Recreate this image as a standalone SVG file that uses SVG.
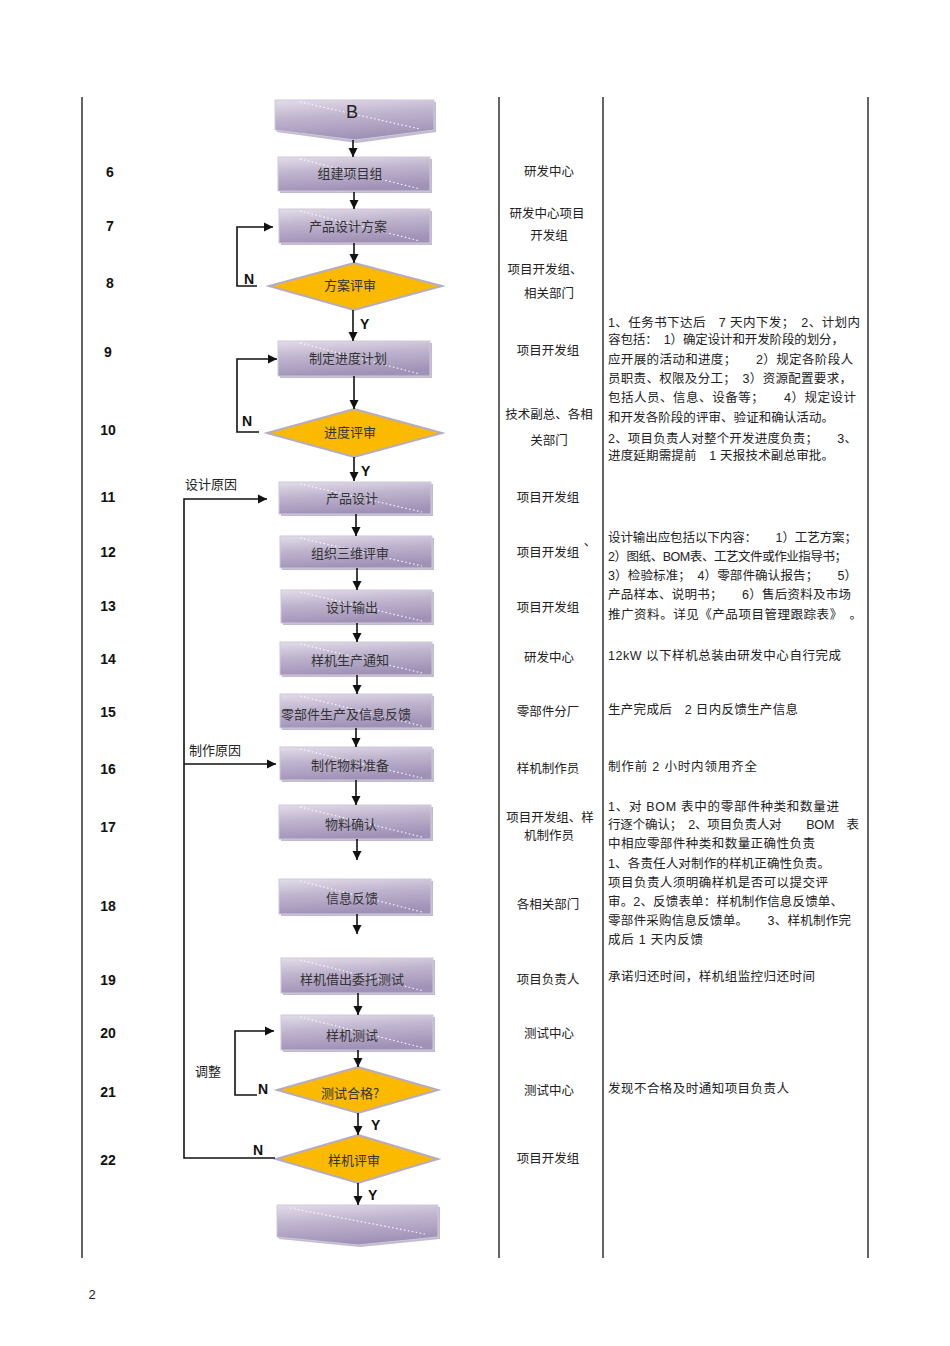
<svg xmlns="http://www.w3.org/2000/svg" width="950" height="1346" viewBox="0 0 950 1346">
<style>
.bg{fill:#ffffff}
.col{stroke:#111;stroke-width:1.3;fill:none}
.num{font-family:"Liberation Sans",Arial,sans-serif;font-weight:bold;font-size:14px;fill:#111;text-anchor:middle}
.yn{font-family:"Liberation Sans",Arial,sans-serif;font-weight:bold;font-size:14px;fill:#111}
.bx{fill:url(#pg);stroke:#cfc8da;stroke-width:1}
.sh{fill:#8f82a6;opacity:0.55}
.dot{stroke:#ffffff;stroke-width:1.2;stroke-dasharray:1.5 2.5;fill:none;opacity:0.9}
.dm{fill:#fbb900;stroke:#b4acc4;stroke-width:2}
.bt{font-family:"Noto Sans CJK SC",sans-serif;font-size:13px;fill:#333;text-anchor:middle;dominant-baseline:central}
.rt{font-family:"Noto Sans CJK SC",sans-serif;font-size:12.5px;fill:#222;text-anchor:middle;dominant-baseline:central}
.nt{font-family:"Liberation Sans","Noto Sans CJK SC",sans-serif;font-size:12.5px;fill:#222;dominant-baseline:central}
.lb{font-family:"Noto Sans CJK SC",sans-serif;font-size:13px;fill:#222;dominant-baseline:central}
.cn{stroke:#111;stroke-width:1.6;fill:none}
</style>
<defs>
<linearGradient id="pg" x1="0" y1="0" x2="0.25" y2="1">
<stop offset="0" stop-color="#e3dde9"/>
<stop offset="0.45" stop-color="#c0b5cf"/>
<stop offset="1" stop-color="#a092b7"/>
</linearGradient>
<marker id="ar" markerWidth="10" markerHeight="10" refX="9" refY="5" orient="auto" markerUnits="userSpaceOnUse">
<path d="M0,0.5 L9,5 L0,9.5 Z" fill="#111"/>
</marker>
</defs>
<rect class="bg" x="0" y="0" width="950" height="1346"/>

<g id="columns">
<line class="col" x1="82" y1="97" x2="82" y2="1258"/>
<line class="col" x1="499" y1="97" x2="499" y2="1258"/>
<line class="col" x1="603" y1="97" x2="603" y2="1258"/>
<line class="col" x1="868" y1="97" x2="868" y2="1258"/>
</g>

<g id="numbers">
<text class="num" x="110" y="177">6</text>
<text class="num" x="110" y="231">7</text>
<text class="num" x="110" y="288">8</text>
<text class="num" x="108" y="357">9</text>
<text class="num" x="108" y="435">10</text>
<text class="num" x="108" y="502">11</text>
<text class="num" x="108" y="557">12</text>
<text class="num" x="108" y="611">13</text>
<text class="num" x="108" y="664">14</text>
<text class="num" x="108" y="717">15</text>
<text class="num" x="108" y="774">16</text>
<text class="num" x="108" y="832">17</text>
<text class="num" x="108" y="911">18</text>
<text class="num" x="108" y="985">19</text>
<text class="num" x="108" y="1038">20</text>
<text class="num" x="108" y="1097">21</text>
<text class="num" x="108" y="1165">22</text>
</g>

<g id="nodeB">
<path class="sh" d="M277,102 L436,102 L436,132 L357,143 L277,132 Z"/>
<path class="bx" d="M275,100 L434,100 L434,130 L355,140 L275,130 Z"/>
<line class="dot" x1="300" y1="102" x2="420" y2="129"/>
<text x="352" y="112" font-family="Liberation Sans,Arial,sans-serif" font-size="18" fill="#222" text-anchor="middle" dominant-baseline="central">B</text>
</g>

<g id="n6">
<rect class="sh" x="280" y="159" width="152" height="34"/>
<rect class="bx" x="278" y="157" width="152" height="34"/>
<line class="dot" x1="300" y1="159" x2="420" y2="189"/>
<text class="bt" x="350" y="172">组建项目组</text>
</g>
<g id="n7">
<rect class="sh" x="281" y="211" width="151" height="34"/>
<rect class="bx" x="279" y="209" width="151" height="34"/>
<line class="dot" x1="300" y1="211" x2="420" y2="241"/>
<text class="bt" x="348" y="225">产品设计方案</text>
</g>
<g id="n8">
<path class="dm" d="M354,263 L442,286 L354,310 L269,286 Z"/>
<text class="bt" x="350" y="284">方案评审</text>
</g>
<g id="n9">
<rect class="sh" x="280" y="343" width="152" height="35"/>
<rect class="bx" x="278" y="341" width="152" height="35"/>
<line class="dot" x1="300" y1="343" x2="420" y2="374"/>
<text class="bt" x="348" y="357">制定进度计划</text>
</g>
<g id="n10">
<path class="dm" d="M354,409 L442,433 L354,457 L267,433 Z"/>
<text class="bt" x="350" y="431">进度评审</text>
</g>
<g id="n11">
<rect class="sh" x="281" y="484" width="152" height="32"/>
<rect class="bx" x="279" y="482" width="152" height="32"/>
<line class="dot" x1="300" y1="484" x2="422" y2="512"/>
<text class="bt" x="352" y="497">产品设计</text>
</g>
<g id="n12">
<rect class="sh" x="282" y="538" width="152" height="32"/>
<rect class="bx" x="280" y="536" width="152" height="32"/>
<line class="dot" x1="300" y1="538" x2="422" y2="566"/>
<text class="bt" x="350" y="552">组织三维评审</text>
</g>
<g id="n13">
<rect class="sh" x="283" y="592" width="151" height="33"/>
<rect class="bx" x="281" y="590" width="151" height="33"/>
<line class="dot" x1="300" y1="592" x2="422" y2="621"/>
<text class="bt" x="352" y="606">设计输出</text>
</g>
<g id="n14">
<rect class="sh" x="282" y="644" width="152" height="33"/>
<rect class="bx" x="280" y="642" width="152" height="33"/>
<line class="dot" x1="300" y1="644" x2="422" y2="673"/>
<text class="bt" x="350" y="659">样机生产通知</text>
</g>
<g id="n15">
<rect class="sh" x="282" y="696" width="152" height="34"/>
<rect class="bx" x="280" y="694" width="152" height="34"/>
<line class="dot" x1="300" y1="696" x2="422" y2="726"/>
<text class="bt" x="346" y="713">零部件生产及信息反馈</text>
</g>
<g id="n16">
<rect class="sh" x="282" y="749" width="152" height="33"/>
<rect class="bx" x="280" y="747" width="152" height="33"/>
<line class="dot" x1="300" y1="749" x2="422" y2="778"/>
<text class="bt" x="350" y="764">制作物料准备</text>
</g>
<g id="n17">
<rect class="sh" x="281" y="807" width="152" height="34"/>
<rect class="bx" x="279" y="805" width="152" height="34"/>
<line class="dot" x1="300" y1="807" x2="422" y2="837"/>
<text class="bt" x="351" y="823">物料确认</text>
</g>
<g id="n18">
<rect class="sh" x="281" y="881" width="152" height="35"/>
<rect class="bx" x="279" y="879" width="152" height="35"/>
<line class="dot" x1="300" y1="881" x2="422" y2="912"/>
<text class="bt" x="352" y="897">信息反馈</text>
</g>
<g id="n19">
<rect class="sh" x="283" y="960" width="152" height="35"/>
<rect class="bx" x="281" y="958" width="152" height="35"/>
<line class="dot" x1="300" y1="960" x2="424" y2="991"/>
<text class="bt" x="352" y="978">样机借出委托测试</text>
</g>
<g id="n20">
<rect class="sh" x="283" y="1017" width="152" height="35"/>
<rect class="bx" x="281" y="1015" width="152" height="35"/>
<line class="dot" x1="300" y1="1017" x2="424" y2="1048"/>
<text class="bt" x="352" y="1034">样机测试</text>
</g>
<g id="n21">
<path class="dm" d="M358,1067 L438,1090 L358,1113 L277,1090 Z"/>
<text class="bt" x="350" y="1092">测试合格?</text>
</g>
<g id="n22">
<path class="dm" d="M358,1135 L438,1159 L358,1183 L276,1159 Z"/>
<text class="bt" x="354" y="1159">样机评审</text>
</g>
<g id="nEnd">
<path class="sh" d="M279,1207 L440,1207 L440,1239 L360,1247 L279,1239 Z"/>
<path class="bx" d="M277,1205 L438,1205 L438,1237 L358,1245 L277,1237 Z"/>
<line class="dot" x1="290" y1="1208" x2="425" y2="1234"/>
</g>

<g id="connectors">
<line class="cn" x1="353" y1="140" x2="353" y2="157" marker-end="url(#ar)"/>
<line class="cn" x1="354" y1="192" x2="354" y2="209" marker-end="url(#ar)"/>
<line class="cn" x1="354" y1="243" x2="354" y2="263" marker-end="url(#ar)"/>
<line class="cn" x1="353" y1="310" x2="353" y2="341" marker-end="url(#ar)"/>
<line class="cn" x1="354" y1="376" x2="354" y2="409" marker-end="url(#ar)"/>
<line class="cn" x1="354" y1="457" x2="354" y2="481" marker-end="url(#ar)"/>
<line class="cn" x1="356" y1="514" x2="356" y2="536" marker-end="url(#ar)"/>
<line class="cn" x1="357" y1="568" x2="357" y2="590" marker-end="url(#ar)"/>
<line class="cn" x1="357" y1="623" x2="357" y2="642" marker-end="url(#ar)"/>
<line class="cn" x1="357" y1="675" x2="357" y2="694" marker-end="url(#ar)"/>
<line class="cn" x1="356" y1="728" x2="356" y2="747" marker-end="url(#ar)"/>
<line class="cn" x1="356" y1="780" x2="356" y2="805" marker-end="url(#ar)"/>
<line class="cn" x1="357" y1="839" x2="357" y2="860" marker-end="url(#ar)"/>
<line class="cn" x1="357" y1="914" x2="357" y2="934" marker-end="url(#ar)"/>
<line class="cn" x1="358" y1="993" x2="358" y2="1015" marker-end="url(#ar)"/>
<line class="cn" x1="358" y1="1050" x2="358" y2="1067" marker-end="url(#ar)"/>
<line class="cn" x1="358" y1="1113" x2="358" y2="1135" marker-end="url(#ar)"/>
<line class="cn" x1="358" y1="1183" x2="358" y2="1205" marker-end="url(#ar)"/>
<polyline class="cn" points="257,286 237,286 237,227 273,227" marker-end="url(#ar)"/>
<polyline class="cn" points="259,432 237,432 237,359 277,359" marker-end="url(#ar)"/>
<polyline class="cn" points="257,1095 235,1095 235,1031 274,1031" marker-end="url(#ar)"/>
<polyline class="cn" points="275,1158 184,1158 184,499 267,499" marker-end="url(#ar)"/>
<line class="cn" x1="184" y1="764" x2="276" y2="764" marker-end="url(#ar)"/>
<text class="yn" x="360" y="329">Y</text>
<text class="yn" x="361" y="476">Y</text>
<text class="yn" x="371" y="1130">Y</text>
<text class="yn" x="368" y="1200">Y</text>
<text class="yn" x="244" y="284">N</text>
<text class="yn" x="242" y="426">N</text>
<text class="yn" x="258" y="1094">N</text>
<text class="yn" x="253" y="1155">N</text>
<text class="lb" x="185" y="483">设计原因</text>
<text class="lb" x="189" y="749">制作原因</text>
<text class="lb" x="195" y="1070" font-size="14.5">调整</text>
</g>

<g id="responsible">
<text class="rt" x="549" y="170">研发中心</text>
<text class="rt" x="547" y="212">研发中心项目</text>
<text class="rt" x="549" y="234">开发组</text>
<text class="rt" x="545" y="268">项目开发组、</text>
<text class="rt" x="549" y="292">相关部门</text>
<text class="rt" x="548" y="349">项目开发组</text>
<text class="rt" x="549" y="413">技术副总、各相</text>
<text class="rt" x="549" y="439">关部门</text>
<text class="rt" x="548" y="496">项目开发组</text>
<text class="rt" x="548" y="551">项目开发组</text>
<text class="rt" x="590" y="540">、</text>
<text class="rt" x="548" y="606">项目开发组</text>
<text class="rt" x="549" y="656">研发中心</text>
<text class="rt" x="548" y="710">零部件分厂</text>
<text class="rt" x="548" y="767">样机制作员</text>
<text class="rt" x="550" y="816">项目开发组、样</text>
<text class="rt" x="549" y="834">机制作员</text>
<text class="rt" x="548" y="903">各相关部门</text>
<text class="rt" x="548" y="978">项目负责人</text>
<text class="rt" x="549" y="1032">测试中心</text>
<text class="rt" x="549" y="1089">测试中心</text>
<text class="rt" x="548" y="1157">项目开发组</text>
</g>

<g id="notes">
<text class="nt" x="608" y="323" textLength="252" lengthAdjust="spacing">1、任务书下达后　7 天内下发；　2、计划内</text>
<text class="nt" x="608" y="340" textLength="236" lengthAdjust="spacing">容包括：　1）确定设计和开发阶段的划分，</text>
<text class="nt" x="608" y="360" textLength="245" lengthAdjust="spacing">应开展的活动和进度；　　2）规定各阶段人</text>
<text class="nt" x="608" y="379" textLength="244" lengthAdjust="spacing">员职责、权限及分工；　3）资源配置要求，</text>
<text class="nt" x="608" y="398" textLength="248" lengthAdjust="spacing">包括人员、信息、设备等；　　4）规定设计</text>
<text class="nt" x="608" y="418" textLength="226" lengthAdjust="spacing">和开发各阶段的评审、验证和确认活动。</text>
<text class="nt" x="608" y="439" textLength="249" lengthAdjust="spacing">2、项目负责人对整个开发进度负责；　　3、</text>
<text class="nt" x="608" y="456" textLength="226" lengthAdjust="spacing">进度延期需提前　1 天报技术副总审批。</text>

<text class="nt" x="608" y="538" textLength="249" lengthAdjust="spacing">设计输出应包括以下内容：　　1）工艺方案；</text>
<text class="nt" x="608" y="557" textLength="239" lengthAdjust="spacing">2）图纸、BOM表、工艺文件或作业指导书；</text>
<text class="nt" x="608" y="576" textLength="249" lengthAdjust="spacing">3）检验标准；　4）零部件确认报告；　　5）</text>
<text class="nt" x="608" y="595" textLength="243" lengthAdjust="spacing">产品样本、说明书；　　6）售后资料及市场</text>
<text class="nt" x="608" y="615" textLength="254" lengthAdjust="spacing">推广资料。详见《产品项目管理跟踪表》　。</text>

<text class="nt" x="608" y="656" textLength="233" lengthAdjust="spacing">12kW  以下样机总装由研发中心自行完成</text>
<text class="nt" x="608" y="710" textLength="190" lengthAdjust="spacing">生产完成后　2 日内反馈生产信息</text>
<text class="nt" x="608" y="767" textLength="149" lengthAdjust="spacing">制作前  2 小时内领用齐全</text>

<text class="nt" x="608" y="807" textLength="231" lengthAdjust="spacing">1、对  BOM  表中的零部件种类和数量进</text>
<text class="nt" x="608" y="825" textLength="251" lengthAdjust="spacing">行逐个确认；　2、项目负责人对　　BOM　表</text>
<text class="nt" x="608" y="844" textLength="207" lengthAdjust="spacing">中相应零部件种类和数量正确性负责</text>

<text class="nt" x="608" y="864" textLength="222" lengthAdjust="spacing">1、各责任人对制作的样机正确性负责。</text>
<text class="nt" x="608" y="883" textLength="220" lengthAdjust="spacing">项目负责人须明确样机是否可以提交评</text>
<text class="nt" x="608" y="902" textLength="235" lengthAdjust="spacing">审。2、反馈表单：样机制作信息反馈单、</text>
<text class="nt" x="608" y="921" textLength="243" lengthAdjust="spacing">零部件采购信息反馈单。　　3、样机制作完</text>
<text class="nt" x="608" y="940" textLength="95" lengthAdjust="spacing">成后  1 天内反馈</text>

<text class="nt" x="608" y="977" textLength="207" lengthAdjust="spacing">承诺归还时间，样机组监控归还时间</text>
<text class="nt" x="608" y="1089" textLength="181" lengthAdjust="spacing">发现不合格及时通知项目负责人</text>
</g>

<text x="92" y="1299" font-family="Liberation Sans,Arial,sans-serif" font-size="13" fill="#222" text-anchor="middle">2</text>
</svg>
